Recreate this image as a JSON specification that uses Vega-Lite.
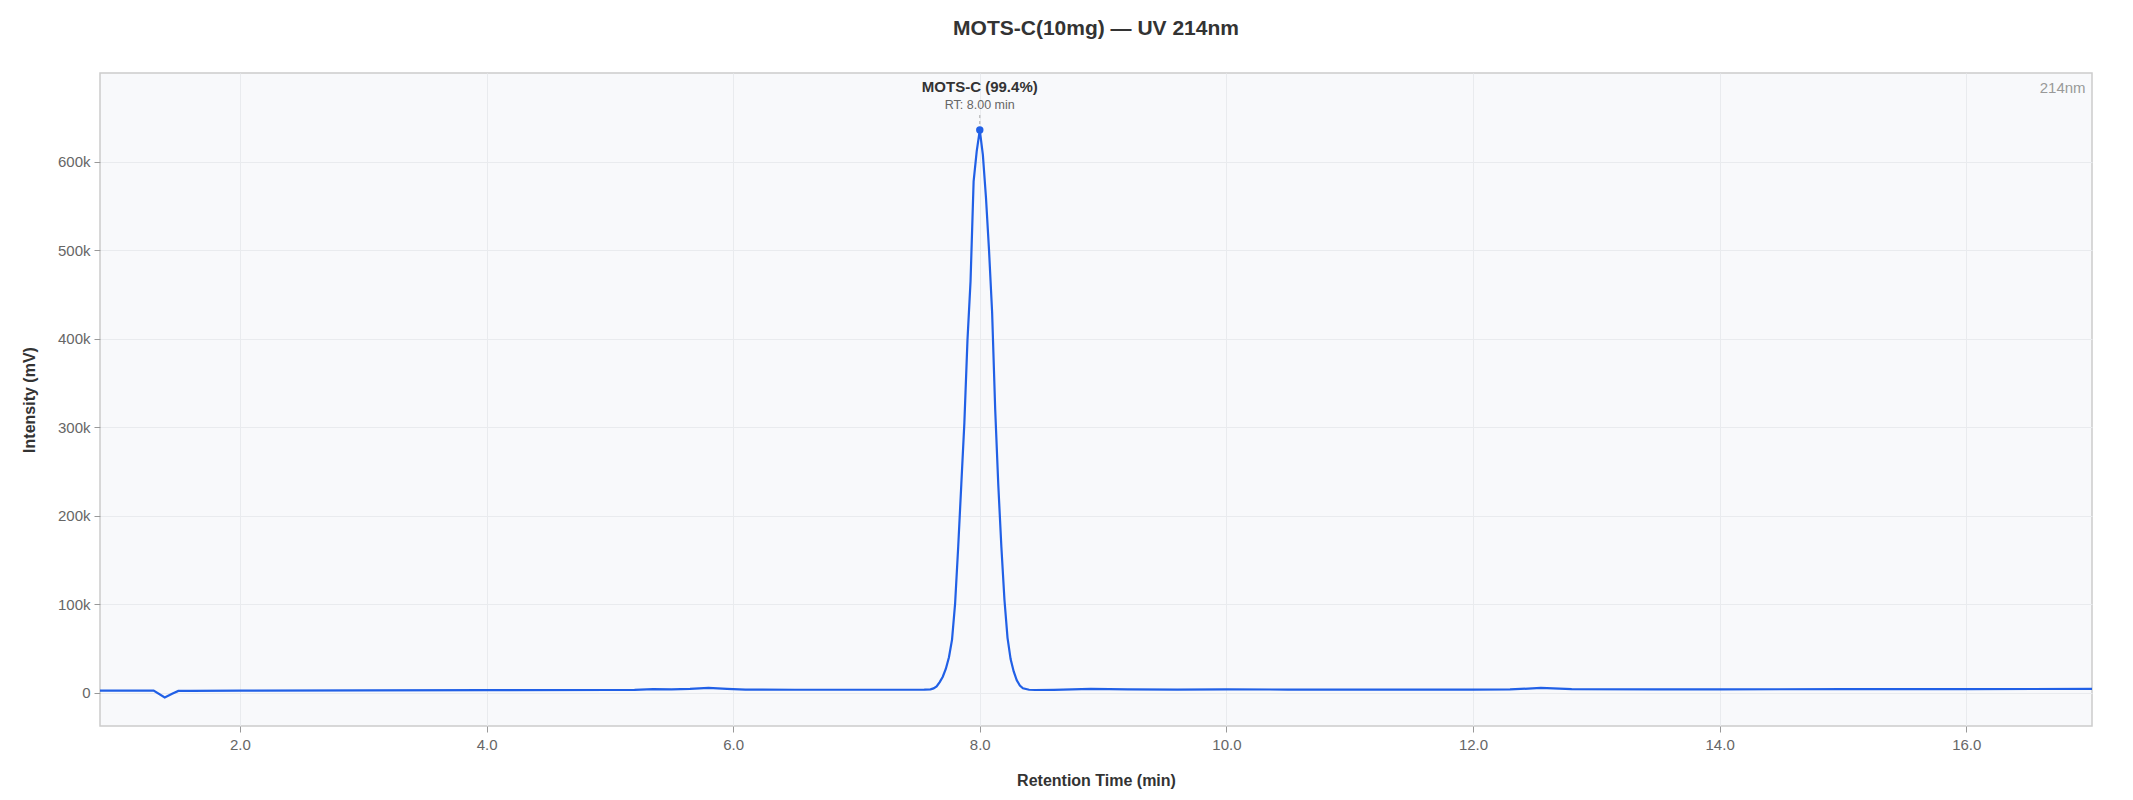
{
  "$schema": "https://vega.github.io/schema/vega-lite/v6.json",
  "autosize": "none",
  "width": 1992,
  "height": 653,
  "padding": {"left": 100, "top": 73, "right": 41, "bottom": 74},
  "background": "#ffffff",
  "title": {
    "text": "MOTS-C(10mg) — UV 214nm",
    "fontSize": 21,
    "fontWeight": "bold",
    "color": "#333333",
    "font": "Liberation Sans",
    "offset": 34,
    "anchor": "middle"
  },
  "datasets": {
    "trace": [
      {"t": 0.865, "v": 2300},
      {"t": 1.0, "v": 2300},
      {"t": 1.2, "v": 2300},
      {"t": 1.3, "v": 2300},
      {"t": 1.39, "v": -5500},
      {"t": 1.45, "v": -1200},
      {"t": 1.5, "v": 2000},
      {"t": 1.6, "v": 2100},
      {"t": 2.0, "v": 2200},
      {"t": 3.0, "v": 2500},
      {"t": 4.0, "v": 2800},
      {"t": 5.0, "v": 3000},
      {"t": 5.2, "v": 3100},
      {"t": 5.35, "v": 4000},
      {"t": 5.5, "v": 3600},
      {"t": 5.65, "v": 4200},
      {"t": 5.8, "v": 5300},
      {"t": 5.95, "v": 4300},
      {"t": 6.1, "v": 3400},
      {"t": 6.5, "v": 3300},
      {"t": 7.0, "v": 3300},
      {"t": 7.5, "v": 3300},
      {"t": 7.55, "v": 3400},
      {"t": 7.6, "v": 3800},
      {"t": 7.625, "v": 4800},
      {"t": 7.65, "v": 7000},
      {"t": 7.675, "v": 12000},
      {"t": 7.7, "v": 18000},
      {"t": 7.725, "v": 27000},
      {"t": 7.75, "v": 40000},
      {"t": 7.775, "v": 60000},
      {"t": 7.8, "v": 101000},
      {"t": 7.825, "v": 165000},
      {"t": 7.85, "v": 235000},
      {"t": 7.875, "v": 305000},
      {"t": 7.9, "v": 398000},
      {"t": 7.925, "v": 465000},
      {"t": 7.95, "v": 578000},
      {"t": 7.975, "v": 612000},
      {"t": 8.0, "v": 636000},
      {"t": 8.025, "v": 608000},
      {"t": 8.05, "v": 560000},
      {"t": 8.075, "v": 500000},
      {"t": 8.1, "v": 430000},
      {"t": 8.125, "v": 320000},
      {"t": 8.15, "v": 235000},
      {"t": 8.175, "v": 165000},
      {"t": 8.2, "v": 105000},
      {"t": 8.225, "v": 62000},
      {"t": 8.25, "v": 38000},
      {"t": 8.275, "v": 24000},
      {"t": 8.3, "v": 14000},
      {"t": 8.325, "v": 8000},
      {"t": 8.35, "v": 5000},
      {"t": 8.4, "v": 3300},
      {"t": 8.45, "v": 3000},
      {"t": 8.6, "v": 3200},
      {"t": 8.9, "v": 4200},
      {"t": 9.2, "v": 3600},
      {"t": 9.6, "v": 3500},
      {"t": 10.0, "v": 3700},
      {"t": 10.5, "v": 3500},
      {"t": 11.0, "v": 3500},
      {"t": 12.0, "v": 3500},
      {"t": 12.3, "v": 3600},
      {"t": 12.55, "v": 5300},
      {"t": 12.8, "v": 3900},
      {"t": 13.5, "v": 3800},
      {"t": 14.0, "v": 3800},
      {"t": 15.0, "v": 3900},
      {"t": 16.0, "v": 4000},
      {"t": 17.02, "v": 4200}
    ],
    "peak": [
      {"t": 8.0, "v": 636000, "v2": 656000, "name": "MOTS-C (99.4%)", "rt": "RT: 8.00 min", "nameY": 685000, "rtY": 664500}
    ],
    "wavelength": [
      {"t": 16.968, "v": 684000, "label": "214nm"}
    ]
  },
  "encoding": {
    "x": {
      "field": "t",
      "type": "quantitative",
      "title": "Retention Time (min)",
      "scale": {"domain": [0.865, 17.02], "nice": false, "zero": false},
      "axis": {
        "values": [2, 4, 6, 8, 10, 12, 14, 16],
        "format": ".1f",
        "domain": false,
        "tickSize": 6,
        "tickColor": "#999999",
        "labelPadding": 5,
        "labelFontSize": 15,
        "labelColor": "#666666",
        "labelFont": "Liberation Sans",
        "titleFont": "Liberation Sans",
        "titleFontSize": 16,
        "titleFontWeight": "bold",
        "titleColor": "#333333",
        "titlePadding": 20,
        "gridColor": "#e9ebee"
      }
    },
    "y": {
      "field": "v",
      "type": "quantitative",
      "title": "Intensity (mV)",
      "scale": {"domain": [-37700, 700500], "nice": false, "zero": false},
      "axis": {
        "values": [0, 100000, 200000, 300000, 400000, 500000, 600000],
        "labelExpr": "datum.value === 0 ? '0' : format(datum.value / 1000, 'd') + 'k'",
        "domain": false,
        "tickSize": 6,
        "tickColor": "#999999",
        "labelPadding": 4,
        "labelFontSize": 15,
        "labelColor": "#666666",
        "labelFont": "Liberation Sans",
        "titleFont": "Liberation Sans",
        "titleFontSize": 16,
        "titleFontWeight": "bold",
        "titleColor": "#333333",
        "titlePadding": 20,
        "gridColor": "#e9ebee"
      }
    }
  },
  "layer": [
    {
      "data": {"name": "trace"},
      "mark": {"type": "line", "color": "#2160e6", "strokeWidth": 2.2, "interpolate": "linear"}
    },
    {
      "data": {"name": "peak"},
      "mark": {"type": "rule", "color": "#aaaaaa", "strokeDash": [3, 3], "strokeWidth": 1},
      "encoding": {"y2": {"field": "v2"}}
    },
    {
      "data": {"name": "peak"},
      "mark": {"type": "point", "filled": true, "color": "#2160e6", "size": 55, "opacity": 1}
    },
    {
      "data": {"name": "peak"},
      "mark": {"type": "text", "font": "Liberation Sans", "fontSize": 15, "fontWeight": "bold", "color": "#333333", "baseline": "middle", "align": "center"},
      "encoding": {"y": {"field": "nameY", "type": "quantitative"}, "text": {"field": "name"}}
    },
    {
      "data": {"name": "peak"},
      "mark": {"type": "text", "font": "Liberation Sans", "fontSize": 12.5, "color": "#666666", "baseline": "middle", "align": "center"},
      "encoding": {"y": {"field": "rtY", "type": "quantitative"}, "text": {"field": "rt"}}
    },
    {
      "data": {"name": "wavelength"},
      "mark": {"type": "text", "font": "Liberation Sans", "fontSize": 15, "color": "#999999", "baseline": "middle", "align": "right"},
      "encoding": {"text": {"field": "label"}}
    }
  ],
  "config": {
    "view": {"fill": "#f8f9fb", "stroke": "#cccccc", "strokeWidth": 1.5}
  }
}
